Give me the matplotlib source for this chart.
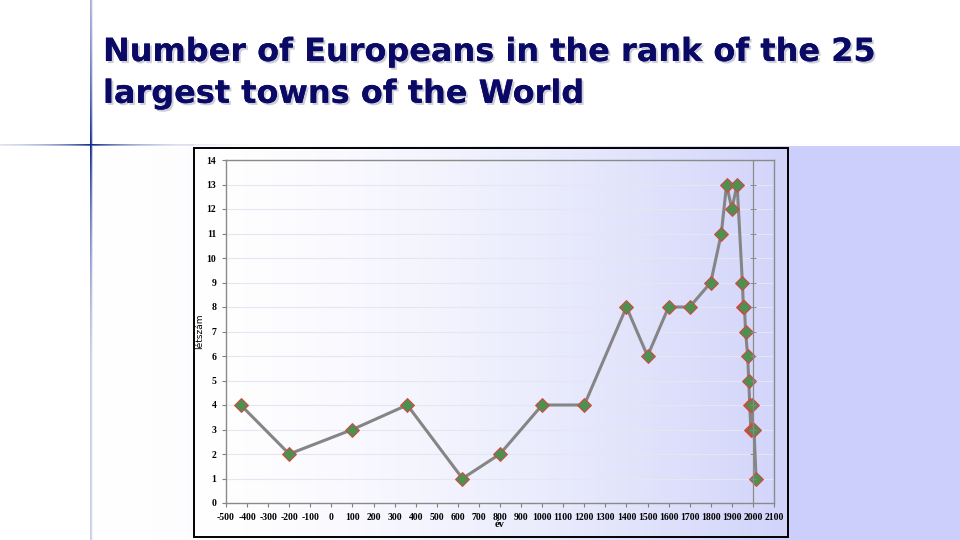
import numpy as np
import matplotlib
matplotlib.use("Agg")
import matplotlib.pyplot as plt
import matplotlib.patheffects as pe
from matplotlib.patches import Rectangle

# data
years = [-430, -200, 100, 360, 622, 800, 1000, 1200, 1400, 1500, 1600, 1700, 1800,
         1850, 1875, 1900, 1925, 1950, 1955, 1960, 1965, 1975, 1980, 1985, 1990,
         1995, 2000, 2005, 2015]
counts = [4, 2, 3, 4, 1, 2, 4, 4, 8, 6, 8, 8, 9,
          11, 13, 12, 13, 9, 8, 8, 7, 6, 5, 4, 3,
          4, 3, 3, 1]
xticks = list(range(-500, 2101, 100))
yticks = list(range(0, 15))

TITLE = "Number of Europeans in the rank of the 25\nlargest towns of the World"
W, H = 960, 540
LAV = np.array([0.80, 0.81, 0.99])
NAVY = np.array([0.05, 0.15, 0.55])

# slide background as an image: white top band, white->lavender below
bg = np.ones((H, W, 3))
xs = np.arange(W)
t = np.clip((xs - 91) / (790 - 91), 0, 1) ** 1.6
band = 1 - t[:, None] * (1 - LAV[None, :])
bg[146:, :, :] = band[None, :, :]
bg[146:, :91, :] = 1.0
# chart frame gradient
fx = np.arange(194, 788)
ft = ((fx - 194) / (788 - 194)) ** 1.5
fband = 1 - ft[:, None] * (1 - np.array([0.82, 0.83, 0.98])[None, :])
bg[148:537, 194:788, :] = fband[None, :, :]
# decorative cross lines
ys = np.arange(H)
wv = np.exp(-np.abs(ys - 145) / 140.0)
wv = np.maximum(wv, 0.22 * (ys > 145))
for dx, k in [(0, 1.0), (1, 0.8), (2, 0.25)]:
    col = 1 - wv[:, None] * (1 - NAVY[None, :]) * k
    bg[:, 90 + dx, :] = np.minimum(bg[:, 90 + dx, :], col)
wh = np.exp(-np.abs(xs - 91) / 45.0)
wh = np.maximum(wh, 0.15 * (xs > 91) * (xs < 194))
for dy, k in [(0, 1.0), (1, 0.7)]:
    col = 1 - wh[:, None] * (1 - NAVY[None, :]) * k
    bg[144 + dy, :, :] = np.minimum(bg[144 + dy, :, :], col)

fig = plt.figure(figsize=(9.6, 5.4), dpi=100)
bax = fig.add_axes([0, 0, 1, 1])
bax.imshow(bg, extent=(0, W, H, 0), aspect="auto", interpolation="bilinear")
bax.set_xlim(0, W)
bax.set_ylim(H, 0)
bax.axis("off")
bax.add_patch(Rectangle((194, 148), 594, 389, fill=False, edgecolor="black", linewidth=1.4))

fig.text(103 / W, 1 - 37 / H, TITLE, ha="left", va="top", fontsize=23, fontweight="bold",
         color="#0a0a66", family="DejaVu Sans", linespacing=1.45,
         path_effects=[pe.withSimplePatchShadow(offset=(1.5, -1.5), shadow_rgbFace="#b8b8c8", alpha=0.7),
                       pe.Normal()])

ax = fig.add_axes([226 / W, 1 - 503 / H, (774 - 226) / W, (503 - 160) / H])
ax.patch.set_alpha(0)
ax.set_xlim(-500, 2100)
ax.set_ylim(0, 14)
for y in yticks[1:]:
    ax.axhline(y, color="#e6e6f3", linewidth=0.8, zorder=0)
ax.plot(years, counts, color="#858585", linewidth=2.2, marker="D", markersize=7,
        markerfacecolor="#4f8f50", markeredgecolor="#e04040", markeredgewidth=0.7, zorder=3)

serif = "Liberation Serif"
ax.set_xticks(xticks)
ax.set_xticklabels([str(v) for v in xticks], fontsize=7, fontweight="bold", family=serif)
ax.set_yticks(yticks)
ax.set_yticklabels([str(v) for v in yticks], fontsize=7, fontweight="bold", family=serif)
ax.tick_params(axis="both", length=3, width=0.8, color="#808080", pad=4)
for s in ax.spines.values():
    s.set_color("#8a8a8a")
    s.set_linewidth(1.0)
ax.set_xlabel("év", fontsize=7.5, fontweight="bold", family=serif, labelpad=-1)
ax.set_ylabel("létszám", fontsize=6.5, family="DejaVu Sans", labelpad=2)

# secondary vertical axis line at year 2000
ax2 = ax.twinx()
ax2.set_ylim(0, 14)
ax2.spines["right"].set_position(("data", 2000))
for k in ["top", "left", "bottom"]:
    ax2.spines[k].set_visible(False)
ax2.spines["right"].set_color("#8a8a8a")
ax2.spines["right"].set_linewidth(0.9)
ax2.set_yticks(yticks)
ax2.set_yticklabels([])
ax2.tick_params(axis="y", length=4, width=0.7, color="#8a8a8a", direction="inout")

fig.savefig("out.png", dpi=100)
